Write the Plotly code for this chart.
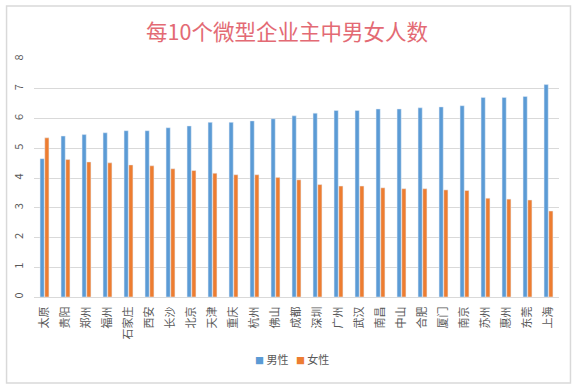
import plotly.graph_objects as go

cities = ["太原", "贵阳", "郑州", "福州", "石家庄", "西安", "长沙", "北京", "天津", "重庆",
          "杭州", "佛山", "成都", "深圳", "广州", "武汉", "南昌", "中山", "合肥", "厦门",
          "南京", "苏州", "惠州", "东莞", "上海"]
male = [4.65, 5.41, 5.46, 5.52, 5.59, 5.59, 5.69, 5.75, 5.87, 5.87,
        5.92, 5.99, 6.09, 6.18, 6.27, 6.27, 6.32, 6.32, 6.36, 6.39,
        6.43, 6.71, 6.71, 6.74, 7.14]
female = [5.35, 4.62, 4.54, 4.51, 4.44, 4.41, 4.31, 4.25, 4.16, 4.11,
          4.11, 4.02, 3.94, 3.78, 3.73, 3.73, 3.67, 3.64, 3.64, 3.60,
          3.58, 3.32, 3.29, 3.26, 2.89]
y_ticks = [0, 1, 2, 3, 4, 5, 6, 7, 8]
series_names = ["男性", "女性"]

FONT = "Noto Sans CJK SC"
BLUE, ORANGE = "#5B9BD5", "#ED7D31"

fig = go.Figure()
fig.add_trace(go.Bar(name=series_names[0], x=cities, y=male, marker_color=BLUE, showlegend=False))
fig.add_trace(go.Bar(name=series_names[1], x=cities, y=female, marker_color=ORANGE, showlegend=False))

W, H = 577, 387
l, r, t, b = 33.5, 17.5, 59, 90
pw, ph = W - l - r, H - t - b

def px_x(p):
    return (p - l) / pw

def px_y(p):
    return (H - b - p) / ph

legend_text = (
    f"<span style='color:{BLUE};font-size:9px'>■</span> {series_names[0]}"
    f"   <span style='color:{ORANGE};font-size:9px'>■</span> {series_names[1]}"
)

fig.update_layout(
    width=W, height=H,
    margin=dict(l=l, r=r, t=t, b=b, pad=0, autoexpand=False),
    paper_bgcolor="white", plot_bgcolor="white",
    barmode="group", bargap=0.55, bargroupgap=0.12,
    font=dict(family=FONT, color="#595959", size=11),
    title=dict(text="每10个微型企业主中男女人数", x=px_x(287), xanchor="center",
               xref="paper", y=1 - 32 / H, yanchor="middle",
               font=dict(family=FONT, size=21.5, color="#E36A74")),
    showlegend=False,
    annotations=[dict(text=legend_text, xref="paper", yref="paper",
                      x=px_x(292), y=px_y(359), xanchor="center", yanchor="middle",
                      showarrow=False, font=dict(family=FONT, size=11, color="#595959"))],
    xaxis=dict(tickangle=-90, showgrid=False, showline=True, linecolor="#D9D9D9",
               ticks="", ticklabelstandoff=4,
               tickfont=dict(size=11, color="#595959"), fixedrange=True),
    yaxis=dict(range=[0, 8], tickvals=y_ticks, showgrid=True, gridcolor="#D9D9D9",
               zeroline=False, showline=False, ticks="", ticklabelstandoff=8,
               tickangle=-90,
               tickfont=dict(size=11, color="#595959"), fixedrange=True),
    shapes=[dict(type="rect", xref="paper", yref="paper",
                 x0=px_x(6), x1=px_x(571), y0=px_y(383), y1=px_y(6),
                 line=dict(color="#D9D9D9", width=1.5), fillcolor="rgba(0,0,0,0)",
                 layer="above")],
)

fig.write_html("out.html", config={"displayModeBar": False},
               post_script="document.body.style.margin='0';")
